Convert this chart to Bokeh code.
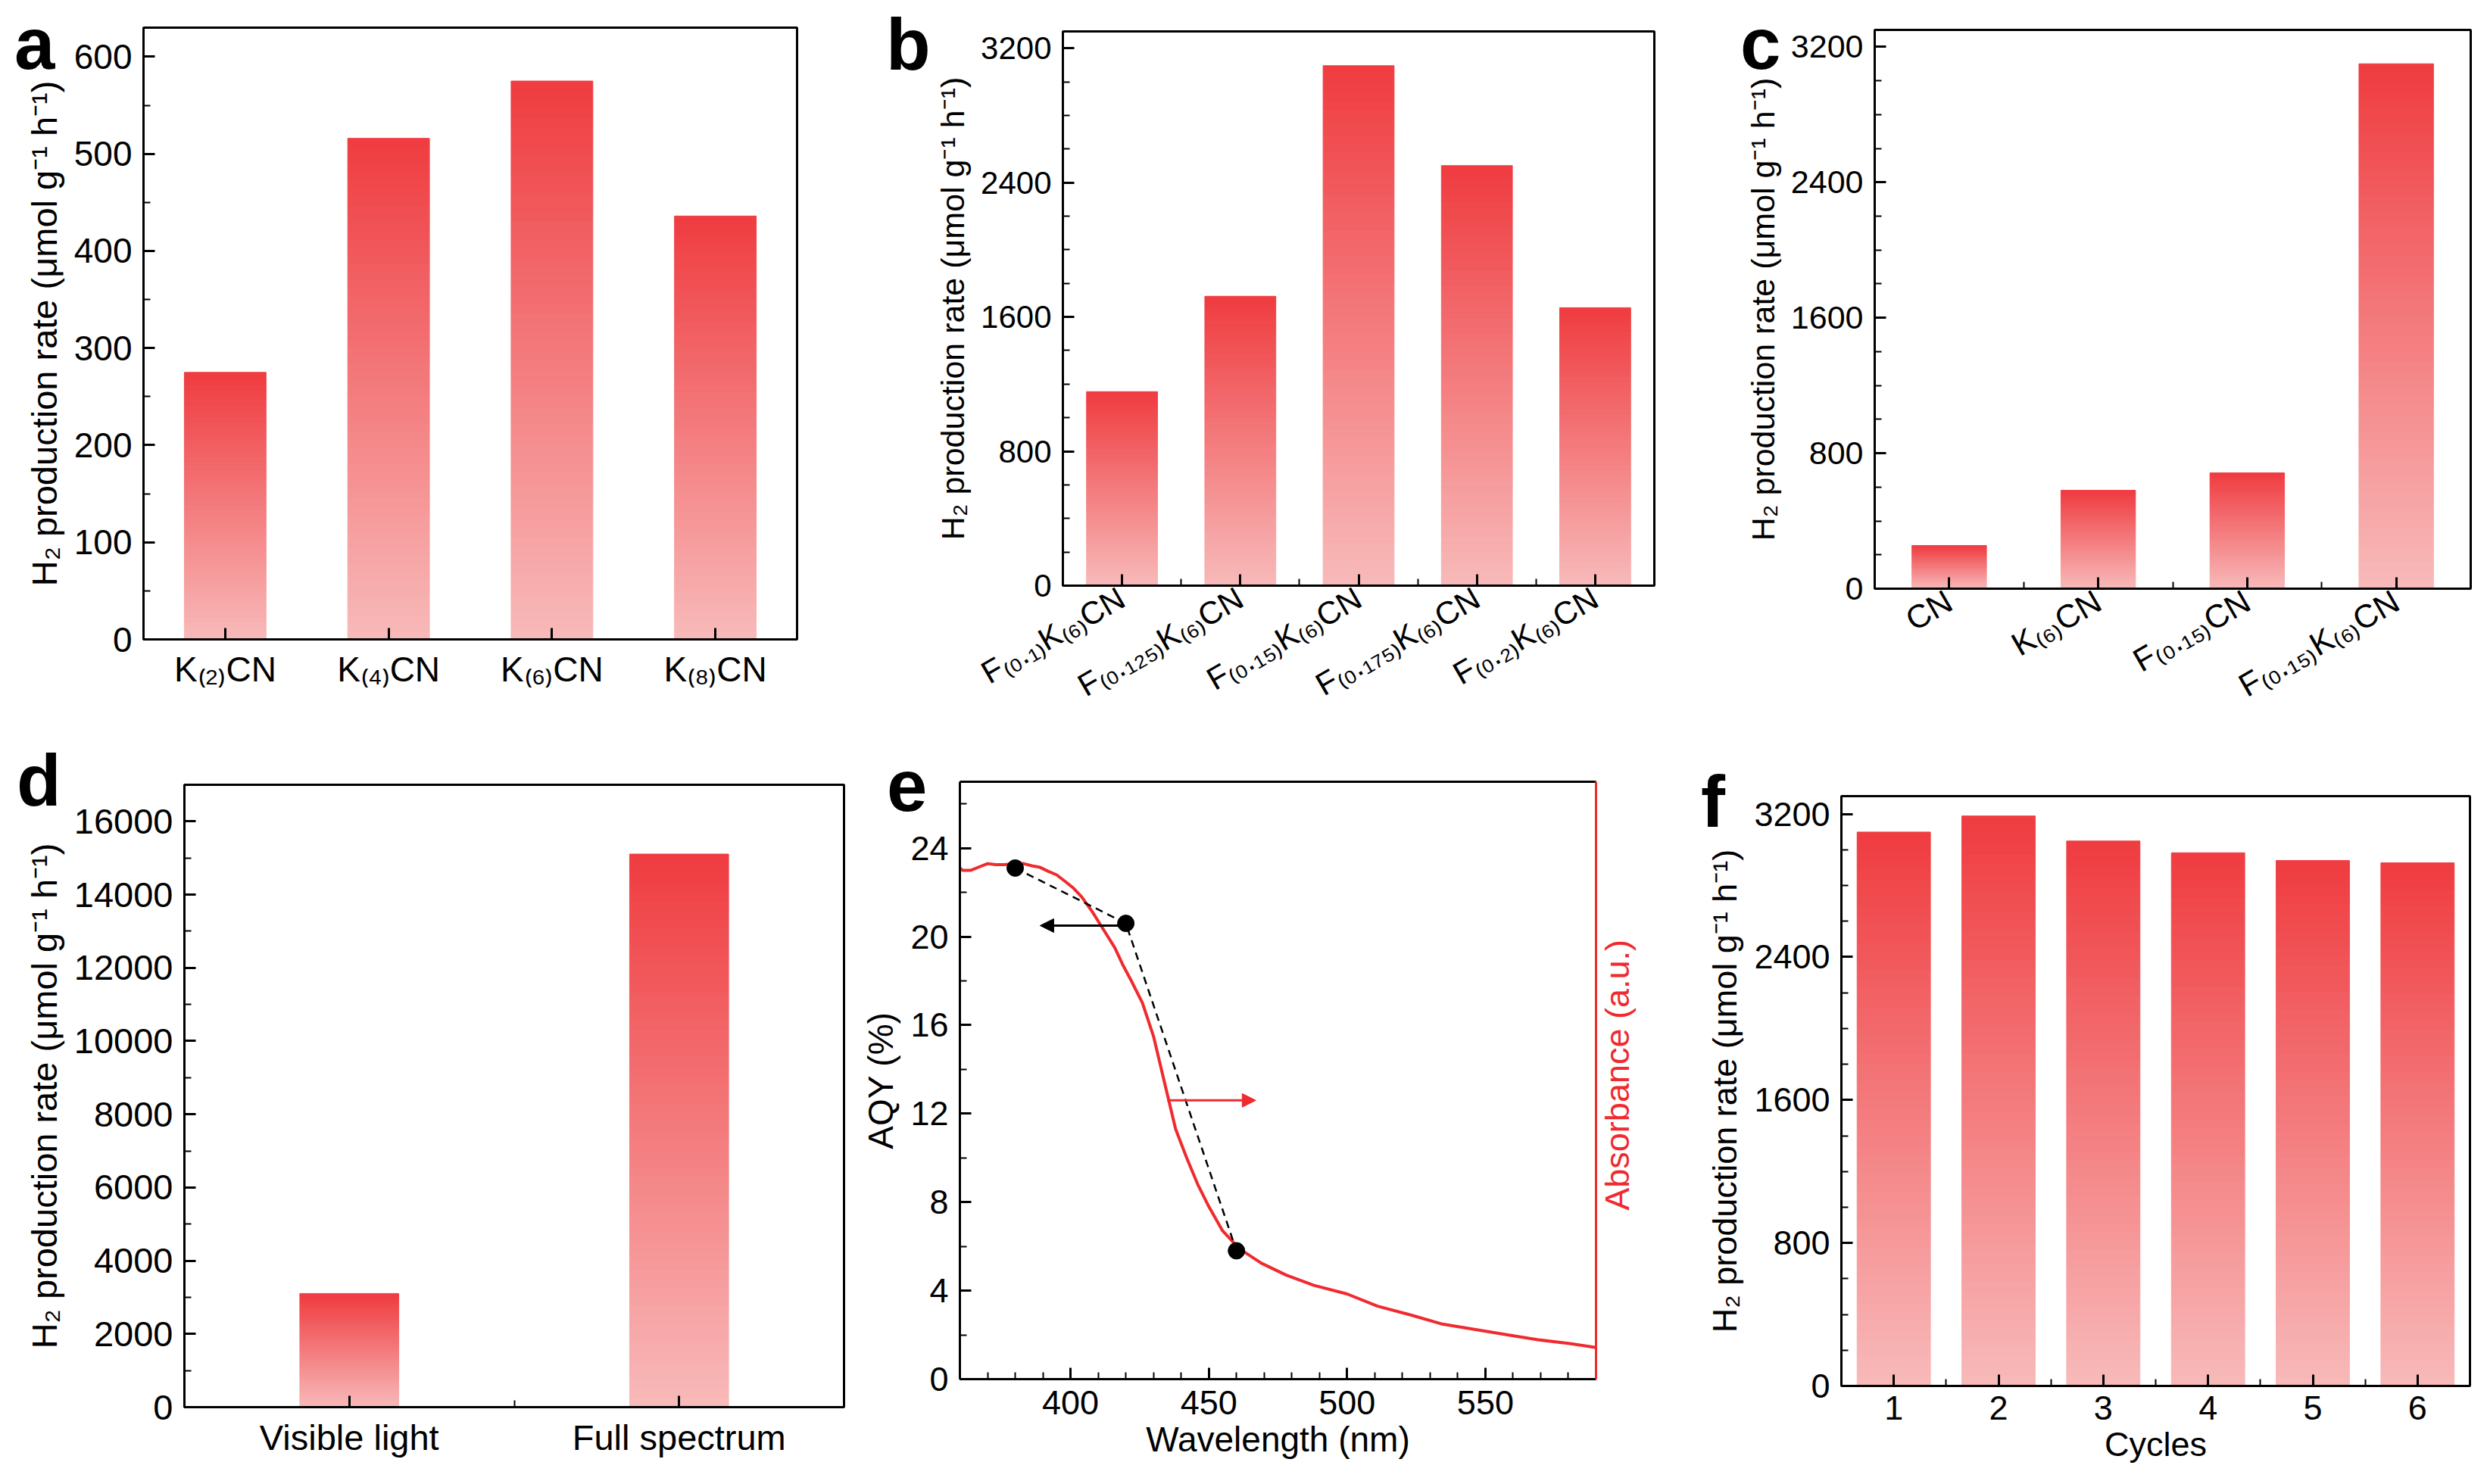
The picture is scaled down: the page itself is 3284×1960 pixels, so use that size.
import math
import numpy as np
from bokeh.plotting import figure
from bokeh.layouts import row, column
from bokeh.models import (Range1d, LinearAxis, FixedTicker, Arrow,
                          NormalHead, ColumnDataSource)
from bokeh.embed import file_html
from bokeh.resources import INLINE

# ------------------------------------------------------------------ data
a_categories = ["K₍₂₎CN", "K₍₄₎CN", "K₍₆₎CN", "K₍₈₎CN"]
a_values = [275, 516, 575, 436]

b_categories = ["F₍₀.₁₎K₍₆₎CN", "F₍₀.₁₂₅₎K₍₆₎CN", "F₍₀.₁₅₎K₍₆₎CN",
                "F₍₀.₁₇₅₎K₍₆₎CN", "F₍₀.₂₎K₍₆₎CN"]
b_values = [1155, 1723, 3096, 2501, 1655]

c_categories = ["CN", "K₍₆₎CN", "F₍₀.₁₅₎CN", "F₍₀.₁₅₎K₍₆₎CN"]
c_values = [255, 581, 684, 3100]

d_categories = ["Visible light", "Full spectrum"]
d_values = [3104, 15107]

e_wavelength = [380, 420, 460]
e_aqy = [23.1, 20.6, 5.8]

abs_wavelength = [360, 361, 364, 367, 370, 373, 376, 380, 383, 386, 389, 392,
                  395, 398, 401, 404, 408, 412, 416, 419, 422, 426, 430, 434,
                  438, 442, 446, 450, 455, 461, 469, 478, 488, 500, 511, 523,
                  534, 546, 558, 569, 581, 590]
abs_values = [23.1, 23.0, 23.0, 23.15, 23.3, 23.25, 23.25, 23.3, 23.3, 23.2,
              23.13, 22.95, 22.79, 22.5, 22.2, 21.8, 21.1, 20.3, 19.5, 18.7,
              18.0, 17.0, 15.5, 13.4, 11.3, 10.0, 8.8, 7.8, 6.7, 5.9, 5.24,
              4.7, 4.24, 3.85, 3.3, 2.9, 2.5, 2.25, 2.0, 1.78, 1.6, 1.43]

# arrows in panel e (wavelength, value)
aqy_arrow = dict(x_start=420, x_end=389, y=20.5)
abs_arrow = dict(x_start=435, x_end=467, y=12.6)

f_categories = ["1", "2", "3", "4", "5", "6"]
f_values = [3099, 3189, 3049, 2983, 2940, 2927]

panel_letters = ["a", "b", "c", "d", "e", "f"]

# ------------------------------------------------------------------ style
FONT = "Liberation Sans"
RED = "#F02A2E"
YLABEL = "H₂ production rate (μmol g⁻¹ h⁻¹)"
TOP_COLOR = np.array([239, 60, 64])
BOT_COLOR = np.array([248, 186, 186])


def style_axis(ax, tick_size, label_size):
    ax.axis_line_color = "black"
    ax.axis_line_width = 3
    ax.major_tick_line_color = "black"
    ax.major_tick_line_width = 3
    ax.minor_tick_line_color = "black"
    ax.minor_tick_line_width = 2
    ax.major_tick_in = 15
    ax.major_tick_out = 0
    ax.minor_tick_in = 9
    ax.minor_tick_out = 0
    ax.major_label_text_font = FONT
    ax.major_label_text_font_size = "%dpx" % tick_size
    ax.major_label_text_color = "black"
    ax.axis_label_text_font = FONT
    ax.axis_label_text_font_size = "%dpx" % label_size
    ax.axis_label_text_font_style = "normal"
    ax.axis_label_text_color = "black"
    ax.major_label_standoff = 15
    ax.axis_label_standoff = 10


def make_fig(w, h, borders, xr, yr, tick_size, label_size):
    l, r, t, b = borders
    p = figure(width=w, height=h, x_range=Range1d(*xr), y_range=Range1d(*yr),
               output_backend="svg", toolbar_location=None,
               min_border_left=l, min_border_right=r,
               min_border_top=t, min_border_bottom=b)
    if "frame_align" in p.properties():
        p.frame_align = False
    p.xgrid.visible = False
    p.ygrid.visible = False
    p.outline_line_color = "black"
    p.outline_line_width = 3
    p.outline_line_alpha = 1.0
    p.background_fill_color = "white"
    p.border_fill_color = "white"
    for ax in list(p.xaxis) + list(p.yaxis):
        style_axis(ax, tick_size, label_size)
    return p


def gradient_bars(p, xs, vals, width, n=60):
    L, R, B, T, C = [], [], [], [], []
    for x, v in zip(xs, vals):
        for k in range(n):
            L.append(x - width / 2)
            R.append(x + width / 2)
            B.append(v * k / n)
            T.append(v * (k + 1) / n)
            c = BOT_COLOR + (TOP_COLOR - BOT_COLOR) * ((k + 0.5) / n)
            C.append("#%02x%02x%02x" % tuple(int(round(t)) for t in c))
    src = ColumnDataSource(dict(left=L, right=R, bottom=B, top=T, color=C))
    p.quad(left="left", right="right", bottom="bottom", top="top",
           fill_color="color", line_color="color", line_width=1, source=src)


def bar_panel(cats, vals, w, h, borders, ymax, width, major, minor,
              tick_size, label_size, orientation=None, minor_x=True,
              xlabel=None):
    n = len(cats)
    xs = list(range(1, n + 1))
    p = make_fig(w, h, borders, (0.5, n + 0.5), (0, ymax),
                 tick_size, label_size)
    gradient_bars(p, xs, vals, width)
    p.xaxis.ticker = FixedTicker(
        ticks=xs, minor_ticks=[x + 0.5 for x in xs[:-1]] if minor_x else [])
    p.xaxis.major_label_overrides = {x: c for x, c in zip(xs, cats)}
    p.xaxis.major_label_standoff = 13
    p.yaxis.ticker = FixedTicker(
        ticks=list(np.arange(0, ymax + 1e-9, major)),
        minor_ticks=list(np.arange(0, ymax + 1e-9, minor)))
    p.yaxis.axis_label = YLABEL
    if orientation is not None:
        p.xaxis.major_label_orientation = orientation
    if xlabel:
        p.xaxis.axis_label = xlabel
        p.xaxis.axis_label_standoff = 4
    return p


# ------------------------------------------------------------------ row 1
pa = bar_panel(a_categories, a_values, 1130, 988, (189, 78, 36, 144), 630,
               0.5, 100, 50, 46, 47, minor_x=False)
pb = bar_panel(b_categories, b_values, 1170, 988, (273, 116, 41, 215), 3300,
               0.6, 800, 200, 42, 43, orientation=math.pi / 6)
pc = bar_panel(c_categories, c_values, 980, 988, (175, 18, 39, 211), 3300,
               0.5, 800, 200, 43, 43, orientation=math.pi / 6)

# ------------------------------------------------------------------ row 2
pd = bar_panel(d_categories, d_values, 1130, 968, (243, 16, 48, 98), 17000,
               0.3, 2000, 1000, 47, 47)

pe = make_fig(1100, 968, (137, 123, 44, 135), (360, 590), (0, 27), 45, 46)
pe.outline_line_color = None
pe.extra_y_ranges = {"abs": Range1d(0, 27)}
pe.xaxis.ticker = FixedTicker(ticks=[400, 450, 500, 550],
                              minor_ticks=list(range(360, 591, 10)))
pe.yaxis.ticker = FixedTicker(ticks=list(range(0, 25, 4)),
                              minor_ticks=list(range(0, 27, 2)))
pe.xaxis.axis_label = "Wavelength (nm)"
pe.xaxis.axis_label_standoff = 4
pe.yaxis.axis_label = "AQY (%)"
top_ax = LinearAxis(ticker=FixedTicker(ticks=[]), axis_line_color="black",
                    axis_line_width=3, major_label_text_font_size="0px")
pe.add_layout(top_ax, "above")
right_ax = LinearAxis(y_range_name="abs", ticker=FixedTicker(ticks=[]),
                      axis_line_color=RED, axis_line_width=3,
                      major_label_text_font_size="0px")
pe.add_layout(right_ax, "right")
abs_label_html = (
    '<div style="position:absolute;left:2110px;top:1241px;'
    'writing-mode:vertical-rl;transform:rotate(180deg);line-height:normal;'
    "font:45px 'Liberation Sans';color:%s;white-space:nowrap;"
    'z-index:10;">Absorbance (a.u.)</div>' % RED)
pe.line(abs_wavelength, abs_values, y_range_name="abs", line_color=RED,
        line_width=4, line_join="round")
pe.line(e_wavelength, e_aqy, line_color="black", line_width=2.5,
        line_dash="10 7")
pe.scatter(e_wavelength, e_aqy, marker="circle", size=22,
           fill_color="black", line_color="black")
pe.add_layout(Arrow(end=NormalHead(size=18, fill_color="black",
                                   line_color="black"),
                    x_start=aqy_arrow["x_start"], x_end=aqy_arrow["x_end"],
                    y_start=aqy_arrow["y"], y_end=aqy_arrow["y"],
                    line_color="black", line_width=3))
pe.add_layout(Arrow(end=NormalHead(size=18, fill_color=RED, line_color=RED),
                    x_start=abs_arrow["x_start"], x_end=abs_arrow["x_end"],
                    y_start=abs_arrow["y"], y_end=abs_arrow["y"],
                    line_color=RED, line_width=3))

pf = bar_panel(f_categories, f_values, 1050, 968, (201, 19, 63, 126), 3300,
               0.7, 800, 200, 45, 45, xlabel="Cycles")

layout = column(row(column(pa), column(pb), column(pc)),
                row(column(pd), column(pe), column(pf)))

# panel letters (page positions, px; 96px font, 60px line box,
# baseline ~ top + 63)
letter_pos = [(19, 28), (1170, 29), (2298, 28), (22, 1001), (1171, 1008),
              (2246, 1029)]
letters_html = "".join(
    '<div style="position:absolute;left:%dpx;top:%dpx;'
    "font:bold 96px 'Liberation Sans';line-height:60px;color:black;"
    'z-index:10;">%s</div>' % (x, y, t)
    for t, (x, y) in zip(panel_letters, letter_pos))

html = file_html(layout, INLINE, "Figure")
html = html.replace(
    "</head>",
    "<style>html,body{margin:0 !important;padding:0 !important;"
    "overflow:hidden;}</style></head>", 1)
html = html.replace("</body>", letters_html + abs_label_html + "</body>", 1)
open("out.html", "w").write(html)
